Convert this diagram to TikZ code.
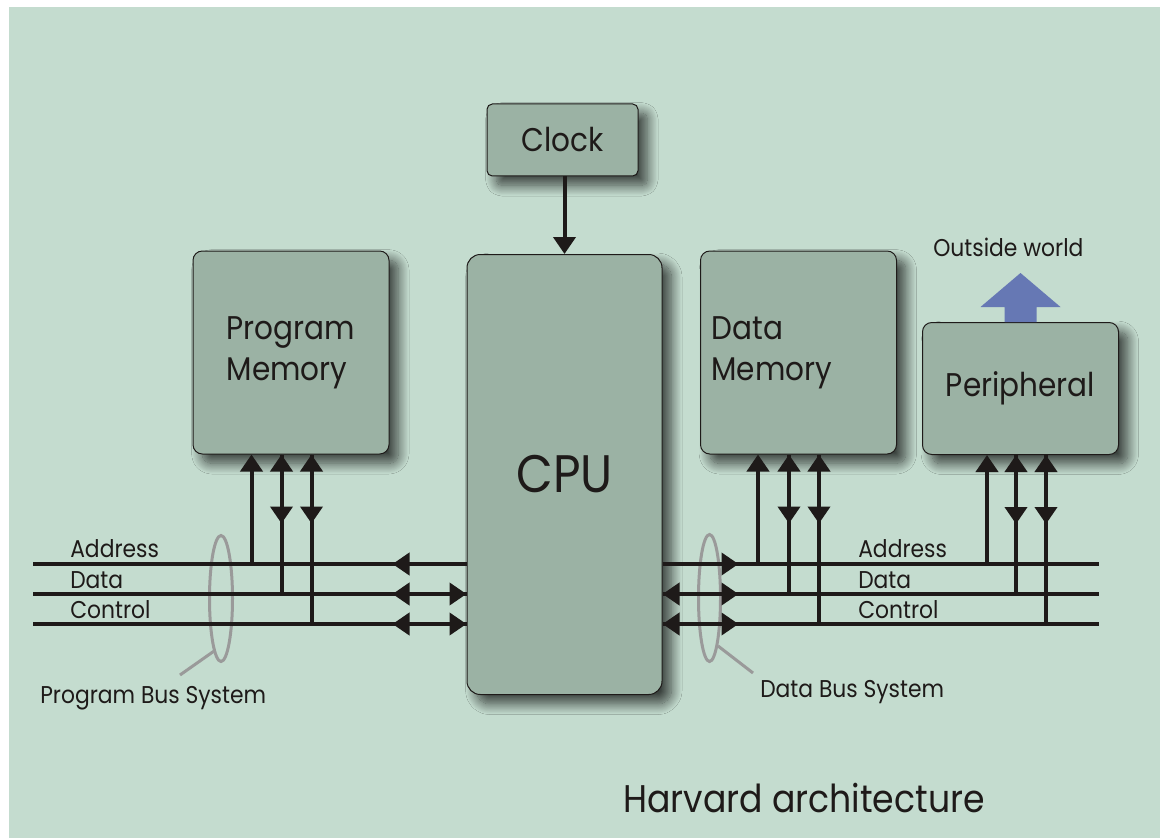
\documentclass[tikz,border=0pt]{standalone}
\usepackage{fontspec}
\setmainfont{Poppins}[FakeStretch=0.9]
\usetikzlibrary{arrows.meta,shapes.geometric,calc,shadows.blur}
\definecolor{bg}{RGB}{196,220,207}
\definecolor{boxfill}{RGB}{155,178,164}
\definecolor{ink}{RGB}{30,26,25}
\definecolor{busgray}{RGB}{154,154,154}
\definecolor{outblue}{RGB}{102,120,180}
\newcommand\FontMid{\fontsize{24.6pt}{30.75pt}\selectfont}
\newcommand\FontCPU{\fontsize{39.6pt}{42pt}\selectfont}
\newcommand\FontSmall{\fontsize{18.2pt}{20pt}\selectfont}
\newcommand\FontTitle{\fontsize{28.9pt}{30pt}\selectfont}
\begin{document}
\begin{tikzpicture}[x=0.75pt,y=-0.75pt,
  box/.style={draw=ink, line width=0.75pt, fill=boxfill, inner sep=0pt, text=ink,
    blur shadow={shadow xshift=7pt, shadow yshift=-7pt, shadow blur radius=8pt,
      shadow blur steps=16, shadow opacity=70}},
  bus/.style={draw=ink, line width=3pt},
  busring/.style={ellipse, draw=busgray, line width=2.25pt, inner sep=0pt},
  leader/.style={draw=busgray, line width=2.25pt},
  lbl/.style={text=ink, font=\FontSmall, inner sep=0pt},
  >={Triangle[length=12.75pt,width=16.5pt]}]
\useasboundingbox (0,0) rectangle (1160,838);
\fill[bg] (9,7) rectangle (1160,838);

% boxes
\node[box, rounded corners=4pt, minimum width=113.25pt, minimum height=54pt, font=\FontMid] (clock) at (562.5,140) {Clock};
\node[box, rounded corners=10pt, minimum width=146.25pt, minimum height=330pt, font=\FontCPU] (cpu) at (564.5,474.5) {CPU};
\node[box, rounded corners=7pt, minimum width=147pt, minimum height=152.25pt, font=\FontMid, align=left] (pm) at (291,352.5) {Program\\Memory};
\node[box, rounded corners=7pt, minimum width=147pt, minimum height=152.25pt, font=\FontMid, align=left, inner xsep=8.25pt, text width=130.5pt] (dm) at (798.5,352.5) {Data\\Memory};
\node[box, rounded corners=7pt, minimum width=147pt, minimum height=99pt, font=\FontMid] (per) at (1020.5,388.5) {Peripheral};

% clock arrow
\draw[bus,->] (clock.south -| cpu.north) -- (cpu.north);

% outside world arrow
\fill[outblue] (per.north) ++(-16,0) -- ++(0,-15) -- ++(-24,0) -- ++(40,-34) -- ++(40,34) -- ++(-24,0) -- ++(0,15) -- cycle;
\node[lbl, anchor=base west] (out) at (933,256) {Outside world};

% bus rings
\node[busring, minimum width=17.25pt, minimum height=94.5pt] (pbus) at (221,598.5) {};
\node[busring, minimum width=16.5pt, minimum height=95.25pt] (dbus) at (709.5,598) {};
\coordinate (pl) at (180,675);
\coordinate (dl) at (753,673);
\draw[leader] (pbus.262) -- (pl);
\draw[leader] (dbus.280) -- (dl);
\node[lbl, anchor=base west] (ptxt) at (40,703) {Program Bus System};
\node[lbl, anchor=base west] (dtxt) at (760,697) {Data Bus System};

% bus lines
\coordinate (LA) at (33,564);
\coordinate (LD) at (33,594);
\coordinate (LC) at (33,624);
\coordinate (RA) at (1099,564);
\coordinate (RD) at (1099,594);
\coordinate (RC) at (1099,624);
\coordinate (cLA) at (cpu.west |- LA);
\coordinate (cLD) at (cpu.west |- LD);
\coordinate (cLC) at (cpu.west |- LC);
\coordinate (cRA) at (cpu.east |- RA);
\coordinate (cRD) at (cpu.east |- RD);
\coordinate (cRC) at (cpu.east |- RC);
\draw[bus] (LA) -- (cLA);
\draw[bus] (LD) -- (cLD);
\draw[bus] (LC) -- (cLC);
\draw[bus] (cRA) -- (RA);
\draw[bus] (cRD) -- (RD);
\draw[bus] (cRC) -- (RC);
\draw[bus,->] (cLA) -- ($(cLA)+(-74,0)$);
\draw[bus,<->] ($(cLD)+(-74,0)$) -- (cLD);
\draw[bus,<->] ($(cLC)+(-74,0)$) -- (cLC);
\draw[bus,->] (cRA) -- ($(cRA)+(76,0)$);
\draw[bus,<->] (cRD) -- ($(cRD)+(76,0)$);
\draw[bus,<->] (cRC) -- ($(cRC)+(76,0)$);

% verticals to memories / peripheral
\foreach \b/\s/\xa/\xb/\xc in {pm/L/59/89/119, dm/R/58/89/119, per/R/65/94/124} {
  \coordinate (\b1) at ($(\b.south west)+(\xa,0)$);
  \coordinate (\b2) at ($(\b.south west)+(\xb,0)$);
  \coordinate (\b3) at ($(\b.south west)+(\xc,0)$);
  \draw[bus,->] (\b1 |- \s A) -- (\b1);
  \draw[bus,->] (\b2 |- \s D) -- (\b2);
  \draw[bus,->] (\b3 |- \s C) -- (\b3);
  \draw[bus,->] (\b2) -- ($(\b2)+(0,69)$);
  \draw[bus,->] (\b3) -- ($(\b3)+(0,69)$);
}

% bus labels
\node[lbl, anchor=base west] (la) at (70,557) {Address};
\node[lbl, anchor=base west] (ld) at (70,588) {Data};
\node[lbl, anchor=base west] (lc) at (70,618) {Control};
\node[lbl, anchor=base west] (ra) at (858,557) {Address};
\node[lbl, anchor=base west] (rd) at (858,588) {Data};
\node[lbl, anchor=base west] (rc) at (858,618) {Control};

% title
\node[text=ink, font=\FontTitle, inner sep=0pt, anchor=base west] (title) at (623,812) {Harvard architecture};
\end{tikzpicture}
\end{document}
